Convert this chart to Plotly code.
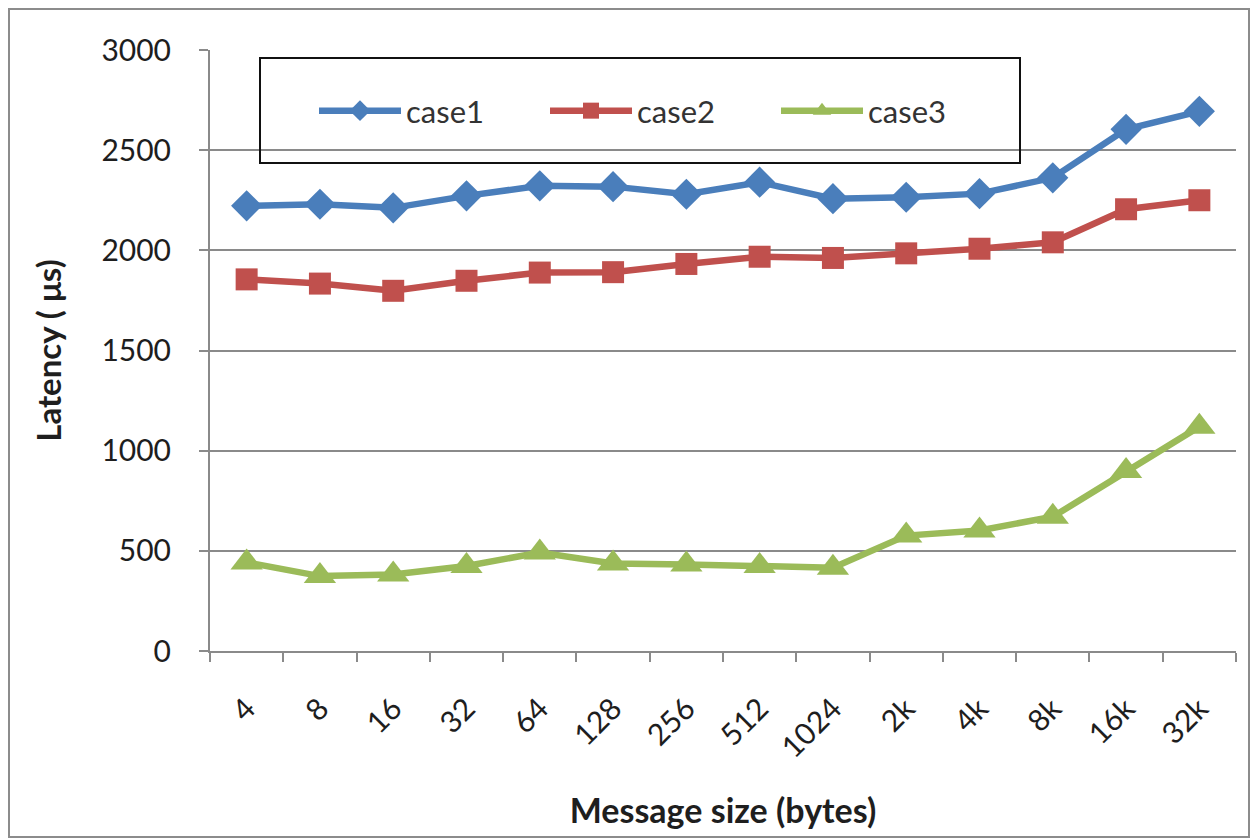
import plotly.graph_objects as go

# Message sizes on the x axis
sizes = ["4", "8", "16", "32", "64", "128", "256", "512", "1024",
         "2k", "4k", "8k", "16k", "32k"]

# Measured latency (µs) per configuration
case1 = [2222, 2230, 2212, 2272, 2322, 2318, 2280, 2340, 2258, 2265, 2283, 2362, 2604, 2694]
case2 = [1855, 1834, 1798, 1848, 1889, 1891, 1932, 1968, 1962, 1985, 2008, 2040, 2205, 2250]
case3 = [442, 374, 382, 424, 492, 437, 432, 424, 416, 576, 602, 670, 898, 1120]

y_ticks = [0, 500, 1000, 1500, 2000, 2500, 3000]

FONT = "Lato"
INK = "#1e1e1e"
W, H = 1254, 839
L, R, T, B = 210, 18, 50, 188
PW, PH = W - L - R, H - T - B


def px_x(px):
    return (px - L) / PW


def px_y(py):
    return (H - B - py) / PH


series = [
    ("case1", case1, "#4A7EBB", "diamond", 24),
    ("case2", case2, "#C0504D", "square", 22),
    ("case3", case3, "#9BBB59", "triangle-up", 28),
]

fig = go.Figure()
for name, vals, color, symbol, size in series:
    fig.add_trace(go.Scatter(
        x=sizes, y=vals, name=name, mode="lines+markers",
        line=dict(color=color, width=6.5),
        marker=dict(symbol=symbol, size=size, color=color),
    ))

fig.update_layout(
    width=W, height=H,
    margin=dict(l=L, r=R, t=T, b=B),
    paper_bgcolor="white", plot_bgcolor="white",
    font=dict(family=FONT, color=INK, size=28),
    showlegend=True,
    legend=dict(
        orientation="h", x=px_x(314), xanchor="left",
        y=px_y(111), yanchor="middle",
        bgcolor="rgba(0,0,0,0)", borderwidth=0,
        font=dict(family=FONT, size=31, color="#333333"),
        entrywidth=134, itemwidth=82,
    ),
    xaxis=dict(
        type="category", range=[-0.5, len(sizes) - 0.5],
        tickangle=-45, tickfont=dict(size=30, family=FONT, color=INK),
        ticklabelstandoff=26,
        ticks="outside", tickson="boundaries", ticklen=9, tickwidth=2,
        tickcolor="#8a8a8a", showline=True, linecolor="#8a8a8a", linewidth=2,
        showgrid=False, zeroline=False,
        title=dict(text="<b>Message size (bytes)</b>", standoff=36,
                   font=dict(size=34, family=FONT, color=INK)),
    ),
    yaxis=dict(
        range=[0, 3000], tickvals=y_ticks,
        tickfont=dict(size=30, family=FONT, color=INK),
        ticklabelstandoff=22,
        ticks="outside", ticklen=9, tickwidth=2, tickcolor="#8a8a8a",
        showline=True, linecolor="#8a8a8a", linewidth=2,
        showgrid=True, gridcolor="#8a8a8a", gridwidth=2,
        zeroline=False,
        title=dict(text="<b>Latency ( μs)</b>", standoff=30,
                   font=dict(size=33, family=FONT, color=INK)),
    ),
    shapes=[
        # outer chart frame
        dict(type="rect", xref="paper", yref="paper",
             x0=px_x(9), x1=px_x(1249), y0=px_y(837), y1=px_y(9),
             line=dict(color="#8c8c8c", width=2), fillcolor="rgba(0,0,0,0)",
             layer="below"),
        # legend frame
        dict(type="rect", xref="paper", yref="paper",
             x0=px_x(260), x1=px_x(1020), y0=px_y(163), y1=px_y(58),
             line=dict(color="#111111", width=2), fillcolor="rgba(0,0,0,0)",
             layer="above"),
    ],
)

fig.write_html("out.html")
